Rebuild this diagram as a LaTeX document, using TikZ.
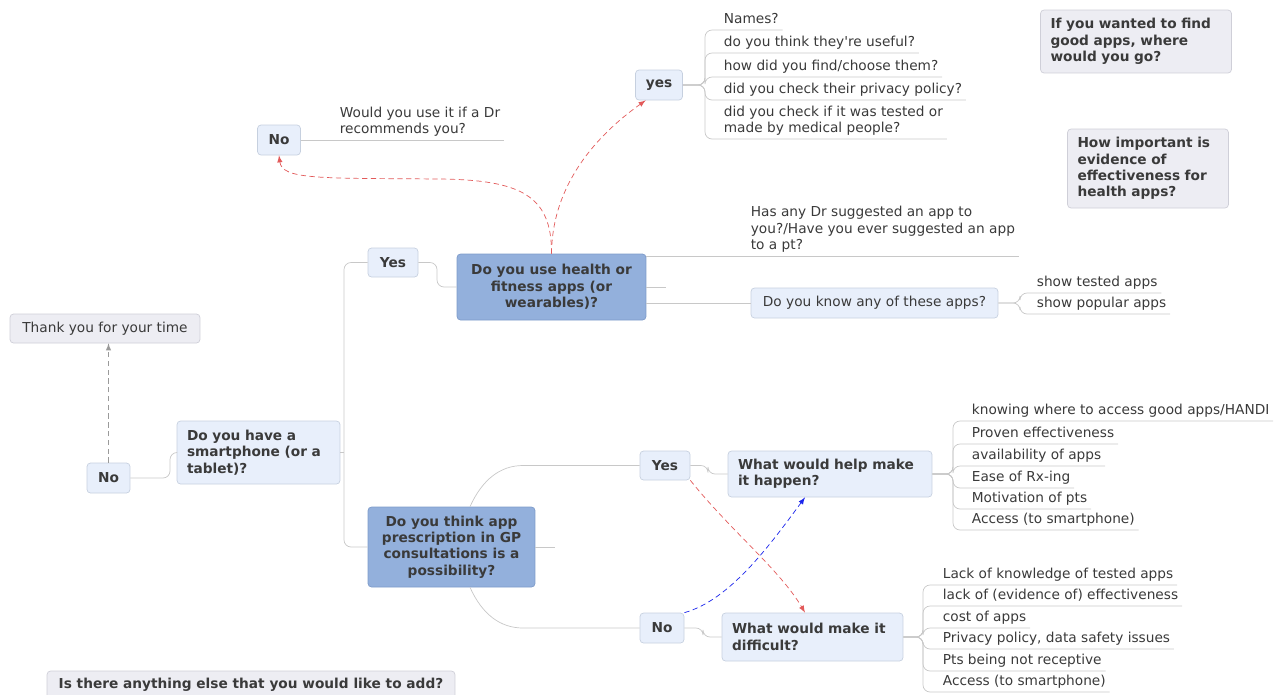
\documentclass[tikz,border=0pt]{standalone}
\usepackage{fontspec}
\setmainfont{DejaVu Sans}
\usetikzlibrary{arrows}

\definecolor{boxfill}{HTML}{E8EFFB}
\definecolor{boxline}{HTML}{C6D0DF}
\definecolor{darkfill}{HTML}{93B0DC}
\definecolor{darkline}{HTML}{7E9BC9}
\definecolor{grayfill}{HTML}{EDEDF3}
\definecolor{grayline}{HTML}{CFCFD8}
\definecolor{txt}{HTML}{3A3A3A}
\definecolor{branchline}{HTML}{C8C8C8}
\definecolor{redarrow}{HTML}{E25A5A}
\definecolor{bluearrow}{HTML}{1B25EC}
\definecolor{grayarrow}{HTML}{9A9A9A}

\begin{document}
\begin{tikzpicture}[
  x=0.02cm, y=-0.02cm,
  font=\fontsize{7.8}{9.3}\selectfont,
  text=txt,
  lightbox/.style={%
    rectangle,%
    rounded corners=2pt,%
    draw=boxline,%
    fill=boxfill,%
    %very thick,%
    font=\fontsize{7.8}{9.3}\selectfont\bfseries,%
    inner sep=3pt%
  },
  darkbox/.style={%
    lightbox,%
    draw=darkline,%
    fill=darkfill,%
    align=center%
  },
  graybox/.style={%
    lightbox,%
    draw=grayline,%
    fill=grayfill%
  },
  leftbox/.style={%
    align=left,%
    inner xsep=0.2cm%
  },
  leafnode/.style={%
    anchor=south west,%
    inner xsep=2pt,%
    inner ysep=1.5pt,%
    text depth=2pt,%
    align=left%
  },
  branch/.style={%
    draw=branchline,%
    thin,%
    rounded corners=4pt%
  },
  jump/.style={%
    densely dashed,%
    thin,%
    -latex%
  }
]

  \useasboundingbox (0,0) rectangle (1281,694);
  \clip (0,0) rectangle (1281,694);

  % boxes
  \node [lightbox, minimum width=0.86cm, minimum height=0.6cm]  (noTop) at (279,140) {No};
  \node [lightbox, minimum width=0.94cm, minimum height=0.6cm]  (yesTop) at (659,85) {yes};
  \node [graybox, leftbox, text width=3.42cm, minimum height=1.26cm] (findApps) at (1136,41.5) {If you wanted to find\\good apps, where\\would you go?};
  \node [graybox, leftbox, text width=2.82cm, minimum height=1.58cm] (evidence) at (1148,168.5) {How important is\\evidence of\\effectiveness for\\health apps?};
  \node [darkbox, minimum width=3.78cm, minimum height=1.32cm]  (useApps) at (551.5,287) {Do you use health or\\fitness apps (or\\wearables)?};
  \node [lightbox, font=\fontsize{7.8}{9.3}\selectfont, minimum width=4.94cm, minimum height=0.6cm] (knowApps) at (874.5,303) {Do you know any of these apps?};
  \node [lightbox, minimum width=1.0cm, minimum height=0.58cm]  (yesMid) at (393,262.5) {Yes};
  \node [lightbox, leftbox, text width=2.86cm, minimum height=1.26cm] (smartphone) at (258.5,452.5) {Do you have a\\smartphone (or a\\tablet)?};
  \node [lightbox, minimum width=0.86cm, minimum height=0.6cm]  (noLeft) at (108.5,478) {No};
  \node [graybox, font=\fontsize{7.8}{9.3}\selectfont, minimum width=3.8cm, minimum height=0.58cm] (thanks) at (105,328.5) {Thank you for your time};
  \node [darkbox, minimum width=3.34cm, minimum height=1.6cm]   (prescription) at (451.5,547) {Do you think app\\prescription in GP\\consultations is a\\possibility?};
  \node [lightbox, minimum width=1.0cm, minimum height=0.58cm]  (yesLow) at (665,465.5) {Yes};
  \node [lightbox, leftbox, text width=3.68cm, minimum height=0.92cm] (help) at (830,474) {What would help make\\it happen?};
  \node [lightbox, minimum width=0.88cm, minimum height=0.6cm]  (noLow) at (662,628) {No};
  \node [lightbox, leftbox, text width=3.22cm, minimum height=0.96cm] (difficult) at (812.5,637) {What would make it\\difficult?};
  \node [graybox, minimum width=8.16cm, minimum height=0.56cm] (anything) at (251,685) {Is there anything else that you would like to add?};

  % leaves
  \node [leafnode] (wouldUse) at (336,140) {Would you use it if a Dr\\recommends you?};
  \node [leafnode] (names)    at (720,30)  {Names?};
  \node [leafnode] (useful)   at (720,53)  {do you think they\textquotesingle re useful?};
  \node [leafnode] (choose)   at (720,77)  {how did you find/choose them?};
  \node [leafnode] (privacy)  at (720,100) {did you check their privacy policy?};
  \node [leafnode] (tested)   at (720,139) {did you check if it was tested or\\made by medical people?};
  \node [leafnode] (hasDr)    at (747,256) {Has any Dr suggested an app to\\you?/Have you ever suggested an app\\to a pt?};
  \node [leafnode] (showTested)  at (1033,293) {show tested apps};
  \node [leafnode] (showPopular) at (1033,314) {show popular apps};

  \node [leafnode] (knowing)    at (968,421) {knowing where to access good apps/HANDI};
  \node [leafnode] (proven)     at (968,444) {Proven effectiveness};
  \node [leafnode] (available)  at (968,466) {availability of apps};
  \node [leafnode] (easeRx)     at (968,488) {Ease of Rx-ing};
  \node [leafnode] (motivation) at (968,509) {Motivation of pts};
  \node [leafnode] (accessA)    at (968,530) {Access (to smartphone)};

  \node [leafnode] (lackKnow)   at (939,585) {Lack of knowledge of tested apps};
  \node [leafnode] (lackEvid)   at (939,606) {lack of (evidence of) effectiveness};
  \node [leafnode] (cost)       at (939,628) {cost of apps};
  \node [leafnode] (safety)     at (939,649) {Privacy policy, data safety issues};
  \node [leafnode] (receptive)  at (939,671) {Pts being not receptive};
  \node [leafnode] (accessB)    at (939,692) {Access (to smartphone)};

  \coordinate (stubTop) at (666,287);
  \coordinate (stubLow) at (555,547);

  % branches
  \draw [branch] (noTop.east) -- (wouldUse.south east);
  \draw [branch] (yesTop.east) -- (705,85) |- (names.south east);
  \draw [branch] (yesTop.east) -- (705,85) |- (useful.south east);
  \draw [branch] (yesTop.east) -- (705,85) |- (choose.south east);
  \draw [branch] (yesTop.east) -- (705,85) |- (privacy.south east);
  \draw [branch] (yesTop.east) -- (705,85) |- (tested.south east);
  \draw [branch] (useApps.east |- hasDr.south) -- (hasDr.south east);
  \draw [branch] (useApps.east) -- (stubTop);
  \draw [branch] (useApps.east |- knowApps.west) -- (knowApps.west);
  \draw [branch] (knowApps.east) -- (1020,303) |- (showTested.south east);
  \draw [branch] (knowApps.east) -- (1020,303) |- (showPopular.south east);

  \draw [branch] (yesMid.west) -| (344,400) |- (prescription.west);
  \draw [branch] (smartphone.east) -- (344,452.5);
  \draw [branch] (noLeft.east) -- (170,478) |- (smartphone.west);
  \draw [branch] (yesMid.east) -- (437,262.5) |- (useApps.west);
  \draw [branch] (prescription.east) -- (stubLow);
  \draw [branch] ([xshift=0.37cm]prescription.north) .. controls (482,480) and (500,465.5) .. (530,465.5) -- (yesLow.west);
  \draw [branch] ([xshift=0.37cm]prescription.south) .. controls (482,614) and (500,628) .. (530,628) -- (noLow.west);
  \draw [branch] (yesLow.east) -- (708,465.5) |- (help.west);
  \draw [branch] (noLow.east) -- (703,628) |- (difficult.west);

  \draw [branch] (help.east) -- (953,474) |- (knowing.south east);
  \draw [branch] (help.east) -- (953,474) |- (proven.south east);
  \draw [branch] (help.east) -- (953,474) |- (available.south east);
  \draw [branch] (help.east) -- (953,474) |- (easeRx.south east);
  \draw [branch] (help.east) -- (953,474) |- (motivation.south east);
  \draw [branch] (help.east) -- (953,474) |- (accessA.south east);

  \draw [branch] (difficult.east) -- (923,637) |- (lackKnow.south east);
  \draw [branch] (difficult.east) -- (923,637) |- (lackEvid.south east);
  \draw [branch] (difficult.east) -- (923,637) |- (cost.south east);
  \draw [branch] (difficult.east) -- (923,637) |- (safety.south east);
  \draw [branch] (difficult.east) -- (923,637) |- (receptive.south east);
  \draw [branch] (difficult.east) -- (923,637) |- (accessB.south east);

  % dashed links
  \draw [jump, draw=grayarrow] (noLeft.north) -- (noLeft.north |- thanks.south);
  \draw [jump, draw=redarrow] (useApps.north) .. controls (552,195) and (520,180) .. (440,179) .. controls (320,178) and (282,180) .. (noTop.south);
  \draw [jump, draw=redarrow] (useApps.north) .. controls (552,190) and (590,140) .. ([xshift=0.21cm]yesTop.south west);
  \draw [jump, draw=redarrow] (yesLow.south east) .. controls (730,530) and (780,570) .. ([xshift=-0.15cm]difficult.north);
  \draw [jump, draw=bluearrow] (noLow.north east) .. controls (730,600) and (770,545) .. ([xshift=-0.5cm]help.south);

\end{tikzpicture}
\end{document}
